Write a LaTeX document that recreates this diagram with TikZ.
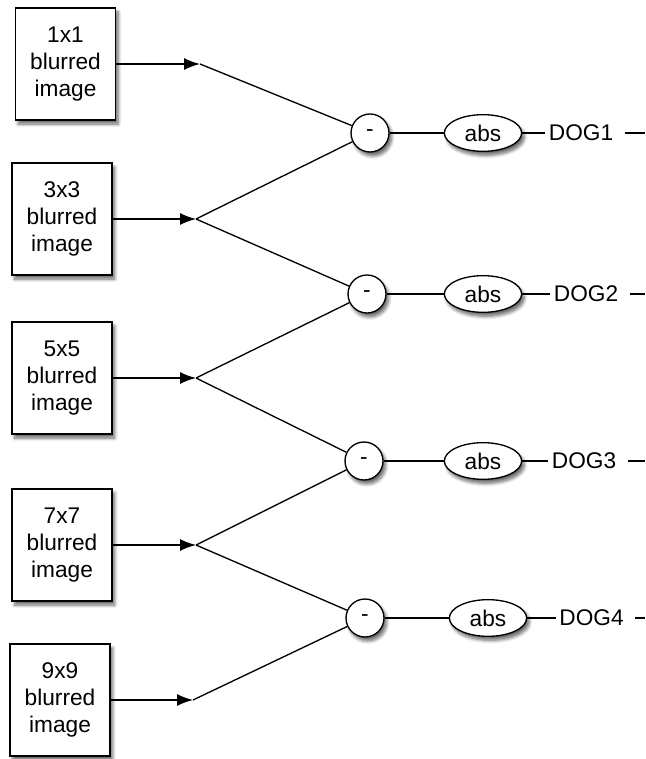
\documentclass[tikz,border=0pt]{standalone}
\usepackage{fontspec}
\setmainfont{Liberation Sans}
\usetikzlibrary{arrows.meta,shadows.blur,shapes.geometric}

\begin{document}
\begin{tikzpicture}[x=0.75pt,y=0.75pt,yscale=-1,xscale=1,
  every node/.style={font=\fontsize{17}{20.5}\selectfont},
  shade/.style={blur shadow={shadow xshift=2pt,shadow yshift=-3pt,
    shadow blur radius=2.5pt,shadow blur steps=6,shadow opacity=60}},
  imgbox/.style={draw,fill=white,line width=1pt,shade,align=center,
    minimum width=75pt,minimum height=84pt},
  diffnode/.style={draw,fill=white,line width=1pt,shade,circle,
    minimum size=28.5pt,inner sep=0pt},
  absnode/.style={draw,fill=white,line width=1pt,shade,ellipse,
    minimum width=58pt,minimum height=27.5pt,inner sep=0pt},
  doglabel/.style={inner sep=2.5pt},
  conn/.style={line width=1pt},
  feed/.style={conn,-{Latex[length=12pt,width=9pt]}}]
\useasboundingbox (0,0) rectangle (645,759);

%Blurred images
\node[imgbox] (img1) at (65.5,64) {1x1\\blurred\\image};
\node[imgbox] (img3) at (62,219) {3x3\\blurred\\image};
\node[imgbox] (img5) at (62,378) {5x5\\blurred\\image};
\node[imgbox] (img7) at (62,545) {7x7\\blurred\\image};
\node[imgbox] (img9) at (60,700) {9x9\\blurred\\image};

%Branch points
\coordinate (j1) at (200,64);
\coordinate (j3) at (196,219);
\coordinate (j5) at (196,378);
\coordinate (j7) at (196,545);
\coordinate (j9) at (193,700);

%Differences
\node[diffnode] (d1) at (370,133) {-};
\node[diffnode] (d2) at (367,294) {-};
\node[diffnode] (d3) at (364,461) {-};
\node[diffnode] (d4) at (365,618) {-};

%Absolute values
\node[absnode] (a1) at (483,133) {abs};
\node[absnode] (a2) at (483,294) {abs};
\node[absnode] (a3) at (483,461) {abs};
\node[absnode] (a4) at (488,618) {abs};

%Outputs
\node[doglabel] (g1) at (581,133) {DOG1};
\node[doglabel] (g2) at (586,294) {DOG2};
\node[doglabel] (g3) at (584,461) {DOG3};
\node[doglabel] (g4) at (591.5,618) {DOG4};
\coordinate (t1) at (645,133);
\coordinate (t2) at (645,294);
\coordinate (t3) at (645,461);
\coordinate (t4) at (645,618);

%Arrows into branch points
\draw[feed] (img1) -- (j1);
\draw[feed] (img3) -- (j3);
\draw[feed] (img5) -- (j5);
\draw[feed] (img7) -- (j7);
\draw[feed] (img9) -- (j9);

%Pairs into differences
\draw[conn] (j1) -- (d1);
\draw[conn] (j3) -- (d1);
\draw[conn] (j3) -- (d2);
\draw[conn] (j5) -- (d2);
\draw[conn] (j5) -- (d3);
\draw[conn] (j7) -- (d3);
\draw[conn] (j7) -- (d4);
\draw[conn] (j9) -- (d4);

%Difference -> abs -> DOG, with a gap after the label
\draw[conn] (d1) -- (a1) (a1) -- (g1) ([xshift=6pt]g1.east) -- (t1);
\draw[conn] (d2) -- (a2) (a2) -- (g2) ([xshift=6pt]g2.east) -- (t2);
\draw[conn] (d3) -- (a3) (a3) -- (g3) ([xshift=6pt]g3.east) -- (t3);
\draw[conn] (d4) -- (a4) (a4) -- (g4) ([xshift=6pt]g4.east) -- (t4);

\end{tikzpicture}
\end{document}
